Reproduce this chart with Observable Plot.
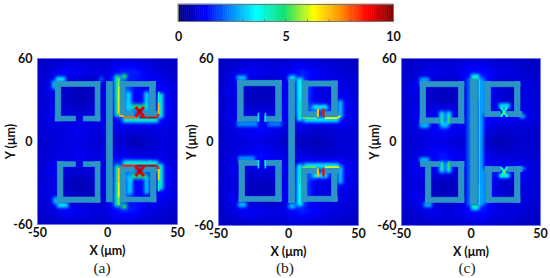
<!DOCTYPE html>
<html><head><meta charset="utf-8">
<script src="https://cdn.jsdelivr.net/npm/d3@7"></script>
<script src="https://cdn.jsdelivr.net/npm/@observablehq/plot@0.6"></script>
<style>
html,body{margin:0;padding:0;background:#fff}
#root{position:relative;width:550px;height:278px;overflow:hidden}
#root svg{position:absolute;overflow:visible}
.cap{position:absolute;font:15.5px "Liberation Serif",serif;color:#222;transform:translateX(-50%)}
</style></head><body><div id="root"></div>
<script>
const jetStops=[0,1.25,2.5,3.6,4.9,6.25,7.5,8.75,10];
const jetColors=["#000080","#0000ff","#0090ff","#00ffff","#10e070","#ffff00","#ff9000","#ff0000","#800000"];
const metal="#2b96c4";
const gridX=[-50,-40,-30,-20,-10,0,10,20,30,40,50];
const gridY=[60,50,40,30,20,10,0,-10,-20,-30,-40,-50,-60];
const fieldA=[
[.65,.7,.75,.75,.75,.75,.85,.85,.8,.7,.65],
[.75,.95,1.3,1.1,1,.95,1.5,1.5,1.1,.85,.75],
[.75,1.1,.75,.65,.65,1.1,2.6,1.3,1.1,1.2,.85],
[.75,1,.7,.55,.65,1.1,2.4,1.2,1.3,1.4,.85],
[.75,1.1,.95,.85,.95,1.1,2.1,2.4,2.2,1.4,.85],
[.75,.95,1,1.1,1,.95,1.1,.95,.95,1,.8],
[.75,.85,.95,1,.85,.75,.8,.5,.75,.95,.8],
[.75,.95,1,1.1,1,.95,1.1,.95,.95,1,.8],
[.75,1.1,.95,.85,.95,1.1,2.1,2.4,2.2,1.4,.85],
[.75,1,.7,.55,.65,1.1,2.4,1.2,1.3,1.4,.85],
[.75,1.1,.75,.65,.65,1.1,2.6,1.3,1.1,1.2,.85],
[.75,.95,1.3,1.1,1,.95,1.5,1.4,1,.85,.75],
[.65,.7,.75,.75,.75,.75,.75,.8,.75,.7,.65]];
const fieldB=[
[.65,.7,.75,.75,.75,.75,.85,.8,.75,.7,.65],
[.75,.95,1.2,1.1,1,1.1,1.5,1.2,1,.85,.75],
[.75,1.1,.75,.65,.65,1.3,2.2,1,.85,1,.85],
[.75,1,.7,.6,.65,1.3,2,1,1,1.2,.85],
[.75,1.1,.95,1,.95,1.2,1.9,2,1.9,1.3,.85],
[.75,.95,1.1,1.35,1.1,.95,1,.85,.85,.95,.8],
[.75,.85,.95,1,.85,.65,.65,.5,.7,.85,.8],
[.75,.95,1.1,1.35,1.1,.95,1,.85,.85,.95,.8],
[.75,1.1,.95,1,.95,1.2,1.9,2,1.9,1.3,.85],
[.75,1,.7,.6,.65,1.3,2,1,1,1.2,.85],
[.75,1.1,.75,.65,.65,1.3,2.2,1,.85,1,.85],
[.75,.95,1.2,1.1,1,1.1,1.5,1.2,1,.85,.75],
[.65,.7,.75,.75,.75,.8,.85,.8,.75,.7,.65]];
const fieldC=[
[.65,.7,.75,.75,.75,.85,.85,.75,.7,.65,.65],
[.75,.85,1.1,1,1,1.35,1.35,1,.95,.8,.75],
[.75,1.1,.75,.65,.75,1.35,1.7,.85,.75,.95,.8],
[.75,1,.7,.6,.7,1.3,1.6,.85,.75,1,.8],
[.75,1.1,1,1.3,1,1.3,1.45,1.35,1.3,1.1,.8],
[.75,.95,1.1,1.45,1.1,1.1,1.1,.85,.85,.85,.75],
[.75,.85,.95,1,.85,.85,.75,.5,.7,.8,.75],
[.75,.95,1.1,1.45,1.1,1.1,1.1,.85,.85,.85,.75],
[.75,1.1,1,1.3,1,1.3,1.45,1.35,1.3,1.1,.8],
[.75,1,.7,.6,.7,1.3,1.6,.85,.75,1,.8],
[.75,1.1,.75,.65,.75,1.35,1.7,.85,.75,.95,.8],
[.75,.85,1.1,1,1,1.35,1.35,1,.95,.8,.75],
[.65,.7,.75,.75,.75,.85,.85,.75,.7,.65,.65]];
// metal rectangles [x1,y1,x2,y2]
const metalA=[
[-37,43,-5,39.5],[-37,43,-33,14.5],[-8.5,43,-5,14.5],[-37,18,-22.5,14.5],[-17,18,-5,14.5],
[-35.5,-15,-22.5,-18.5],[-17,-15,-5,-18.5],[-35.5,-15,-31.5,-44.3],[-8.5,-15,-5,-44.3],[-35.5,-40.5,-5,-44.3],
[-0.5,43,3.8,-44],
[9,43,34.5,39.5],[9,43,12.6,17.8],[30.4,43,34.5,17.8],[9,21.4,19,17.8],[25.7,21.4,36,17.8],
[9.5,-18.2,19.7,-22],[26,-18.2,36,-22],[9.5,-18.2,13.2,-44],[31,-20,35,-44],[9.5,-40.5,35,-44]];
const metalB=[
[-36.2,44,-4.8,40],[-36.2,44,-32,14.6],[-8.8,44,-4.8,14.6],[-36.2,18.2,-21.4,14.6],[-16.7,18.2,-4.8,14.6],
[-35,-13.5,-21.4,-17.2],[-16.7,-13.5,-4.8,-17.2],[-35,-13.5,-31,-43],[-8.8,-13.5,-4.8,-43],[-35,-39.4,-4.8,-43],
[0.5,44.5,4.8,-44],
[10.2,43.5,35.2,39.8],[10.2,43.5,14.2,17.7],[31,43.5,35.2,17.7],[10.2,21.4,21,17.7],[24.8,21.4,37,17.7],
[9.5,-19,21,-22.7],[24.8,-19,36.5,-22.7],[9.5,-19,13.5,-43],[31,-19,35,-43],[9.5,-39.3,35.2,-43]];
const metalC=[
[-36.3,43,-4.7,39.3],[-36.3,43,-32.3,13.2],[-8.7,43,-4.7,13.2],[-36.3,17,-22,13.2],[-16,17,-4.7,13.2],
[-36,-14.4,-22,-18],[-16,-14.4,-4.7,-18],[-32.5,-14.4,-28.5,-43.7],[-8.7,-14.4,-4.7,-43.7],[-32.5,-40,-4.7,-43.7],
[0,45,5,-45],
[10.4,43,35.6,39.3],[10.4,43,14.3,18],[31.6,43,35.6,18],[10.4,21.6,21.5,18],[26,21.6,37,18],
[10.4,-18,21.5,-21.7],[26,-18,37,-21.7],[11,-18,15,-43.7],[31.6,-18,35.6,-43.7],[11,-40,35.6,-43.7]];
// soft halos under the metal [x1,y1,x2,y2,value]
const haloA=[
[-37,45,-30,45,3.4],[-38,44,-38,38,3],[-36,-46,-28,-46,3.4],[-37,-45,-37,-40,3],[-6,45,-3,45,2],
[7,48,7,18,4.4],[7,-17,7,-47,4.4],[10,47,14,47,4.8],[10,-47,14,-47,4.8],
[38,35,38,17,4],[38,-16,38,-35,4],[11,15.5,36,15.5,4],[11,-15.5,36,-15.5,4],
[15,36,15,22,3.2],[28,36,28,22,3.2],[16,-25,16,-38,3.2],[28,-25,28,-38,3],[17,25,28,25,4.8],[17,-25,28,-25,4.8]];
const haloB=[
[-37,46,-30,46,3],[-37,13,-22,13,2.6],[-15,13,-5,13,2.4],[-36,-45,-30,-45,3],[-36,-12,-24,-12,2.6],
[8,46,8,15,3.6],[8,-16,8,-46,3.6],[0,46,5,46,3.4],[0,-46,5,-46,3],[11,16,36,16,3.4],[11,-17,36,-17,3.4],
[37,30,37,17,3],[37,-17,37,-30,3],[17,25,28,25,3.4],[17,-24,28,-24,3.4]];
const haloC=[
[-37,44.5,-30,44.5,2.8],[-37,12,-30,12,3],[-22,12,-16,12,3],[-37,-13,-30,-13,3],[-34,-45,-28,-45,2.8],
[-21,22,-21,13,3.4],[-16,22,-16,13,3.4],[-21,-14,-21,-22,3.4],[-16,-14,-16,-22,3.4],
[7,46,7,-46,2.8],[-1,46,-1,-46,2.2],[0,47,6,47,3.8],[0,-47,6,-47,3.8],
[9,44,9,20,2.6],[9,-20,9,-44,2.6],[37,20,37,17,3],[37,-18,37,-20,3],[20,26,28,26,3.4],[20,-24,28,-24,3.4]];
// sharp hot edges drawn over the metal [x1,y1,x2,y2,value,width]
const hotA=[
[8,46,8,40,5.5,1.8],[8,40,8,28,6,1.8],[8,28,8,20,6.6,1.8],[8,19,12,18,7,1.8],[12,17.3,22,17.3,7.8,1.8],[23,17.3,35,17.3,9.2,1.8],[35,17.3,36.6,20,8.6,2],[36.6,20,36.6,28,7,1.8],[36.6,28,36.6,36,4.2,1.6],
[8,-46,8,-40,5.5,1.8],[8,-40,8,-30,6.2,1.8],[8,-30,8,-19,6.8,1.8],[10,-17.5,20,-17.5,8.5,1.8],[20,-17.5,35,-17.5,9.4,1.8],[35,-17.5,36.6,-20,8.6,2],[36.6,-20,36.6,-28,6.6,1.8],[36.6,-28,36.6,-36,4.2,1.6],
[20,25,26,18,9,3],[26,25,20,18,9,3],[23,23,23,20,10,2],
[20,-18,26,-25,9,3],[26,-18,20,-25,9,3],[23,-20,23,-23,10,2]];
const hotB=[
[8,44,8,30,3.8,1.6],[8,30,8,18,4.6,1.6],[10,17.2,20,17.2,5.4,1.6],[26,17.2,35,17.2,6.2,1.8],[35,17.2,37,19,6,1.8],
[8,-44,8,-30,3.8,1.6],[8,-30,8,-19,4.6,1.6],[10,-18,20,-18,5.4,1.6],[26,-18,36,-18,6,1.8],
[21,24,21,18,7,2.2],[25,24,25,18,8.8,2.2],
[21,-19,21,-25,7,2.2],[25,-19,25,-25,8.8,2.2],
[-21.5,21,-21.5,14.5,3.3,1.6],[-16.5,21,-16.5,14.5,3.3,1.6],[-21.5,-13,-21.5,-19,3.3,1.6],[-16.5,-13,-16.5,-19,3.3,1.6]];
const hotC=[
[6,45,6,30,4.4,1.4],[6,30,6,-30,3.3,1.2],[6,-30,6,-45,4.4,1.4],[1,46,5,46,4.4,1.6],[1,-46,5,-46,4.8,1.6],
[-21,19,-21,13.5,5,1.8],[-16,19,-16,13.5,5,1.8],[-21,-14.5,-21,-20,5,1.8],[-16,-14.5,-16,-20,5,1.8],
[21.5,25,26,18,4,2.4],[26,25,21.5,18,4,2.4],[23.8,22,23.8,20,5.5,1.6],
[21.5,-18,26,-25,4,2.4],[26,-18,21.5,-25,4,2.4],[23.8,-20,23.8,-23,5.5,1.6]];
const captions=["(a)","(b)","(c)"];
const colorbarTicks=[0,1,2,3,4,5,6,7,8,9,10];
const colorbarLabels=[0,5,10];
const font='Lato,"Open Sans",sans-serif';
const colorOpt={type:"linear",domain:jetStops,range:jetColors,interpolate:"rgb"};

const root=document.getElementById("root");
function place(svg,left,top){svg.style.left=left+"px";svg.style.top=top+"px";root.appendChild(svg);}

function panel(field,metalRects,halo,hot,left,plotL,plotW,plotT,plotH,labelOffset){
  const samples=[];
  gridY.forEach((y,j)=>gridX.forEach((x,i)=>samples.push({x,y,v:field[j][i]})));
  const mL=plotL-left,mT=plotT-40;
  const svg=Plot.plot({
    width:mL+plotW+8,height:mT+plotH+36,
    marginLeft:mL,marginRight:8,marginTop:mT,marginBottom:36,
    x:{domain:[-50,50]},y:{domain:[-60,60]},color:colorOpt,
    style:{fontFamily:font,fontSize:"12.5px",fontWeight:"bold",color:"#111"},
    marks:[
      Plot.raster(samples,{x:"x",y:"y",fill:"v",x1:-50,x2:50,y1:-60,y2:60,interpolate:"barycentric",pixelSize:1}),
      Plot.link(halo,{x1:d=>d[0],y1:d=>d[1],x2:d=>d[2],y2:d=>d[3],stroke:d=>d[4],strokeWidth:5,imageFilter:"blur(1.5px)"}),
      Plot.rect(metalRects,{x1:d=>d[0],y1:d=>d[1],x2:d=>d[2],y2:d=>d[3],fill:metal,stroke:metal,strokeWidth:.7}),
      Plot.link(hot,{x1:d=>d[0],y1:d=>d[1],x2:d=>d[2],y2:d=>d[3],stroke:d=>d[4],strokeWidth:d=>d[5],imageFilter:"blur(.4px)"}),
      Plot.frame({stroke:"#6a78e8",strokeWidth:.8}),
      Plot.axisX({ticks:[-50,0,50],tickSize:0,tickPadding:4,tickFormat:String,label:"X (μm)",labelAnchor:"center",labelArrow:"none",labelOffset:30}),
      Plot.axisY({ticks:[-60,0,60],tickSize:0,tickPadding:5,tickFormat:String,label:"Y (μm)",labelAnchor:"center",labelArrow:"none",labelOffset})
    ]
  });
  place(svg,left,40);
}
panel(fieldA,metalA,haloA,hotA,0,37,140,58,166,31);
panel(fieldB,metalB,haloB,hotB,186,218,140,58,167,31);
panel(fieldC,metalC,haloC,hotC,368,401,139,58,167,31);

[[102,captions[0]],[285,captions[1]],[467,captions[2]]].forEach(([x,t])=>{
  const d=document.createElement("div");d.className="cap";d.style.left=x+"px";d.style.top="259px";d.textContent=t;root.appendChild(d);
});

const barSteps=d3.range(0,10,.1);
const bar=Plot.plot({
  width:240,height:44,marginLeft:8,marginRight:17,marginTop:4,marginBottom:23,
  x:{domain:[0,10]},y:{domain:[0,1],axis:null},color:colorOpt,
  style:{fontFamily:font,fontSize:"12.5px",fontWeight:"bold",color:"#111"},
  marks:[
    Plot.rect(barSteps,{x1:d=>d,x2:d=>d+.1,y1:0,y2:1,fill:d=>d,stroke:d=>d,strokeWidth:.5}),
    Plot.ruleX(colorbarTicks,{x:d=>d,y1:0,y2:.08,stroke:"#333",strokeWidth:.6}),
    Plot.ruleX(colorbarTicks,{x:d=>d,y1:.92,y2:1,stroke:"#333",strokeWidth:.6}),
    Plot.frame({stroke:"#777",strokeWidth:1}),
    Plot.axisX({ticks:colorbarLabels,tickSize:0,tickPadding:11,tickFormat:String,label:null})
  ]
});
place(bar,170,0);
</script></body></html>
